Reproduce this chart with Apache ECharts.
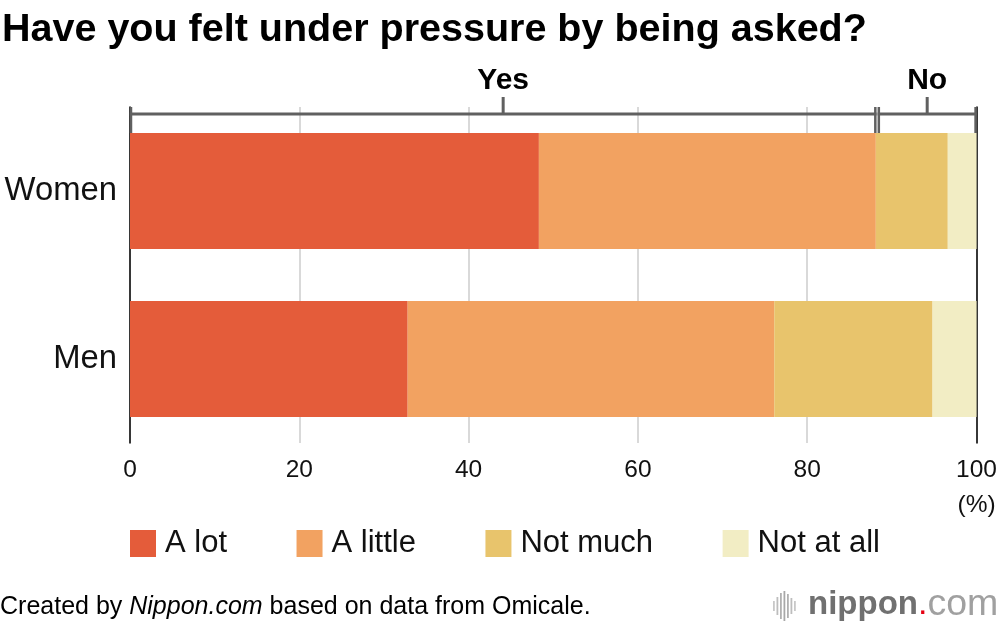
<!DOCTYPE html>
<html>
<head>
<meta charset="utf-8">
<script src="https://cdn.jsdelivr.net/npm/echarts@6/dist/echarts.min.js"></script>
<style>
html,body{margin:0;padding:0;background:#fff;}
#main{width:1000px;height:630px;}
</style>
</head>
<body>
<div id="main"></div>
<script>
var categories = ['Women', 'Men'];
var seriesNames = ['A lot', 'A little', 'Not much', 'Not at all'];
var aLot = [48.3, 32.8];
var aLittle = [39.8, 43.3];
var notMuch = [8.5, 18.7];
var notAtAll = [3.4, 5.2];
var xTicks = [0, 20, 40, 60, 80, 100];
var colors = ['#E45C3A', '#F2A261', '#E8C46C', '#F2EDC4'];
var FONT = '"Liberation Sans", Arial, Helvetica, sans-serif';

var chart = echarts.init(document.getElementById('main'));
var values = [aLot, aLittle, notMuch, notAtAll];

var option = {
  backgroundColor: '#fff',
  animation: false,
  textStyle: {fontFamily: FONT},
  title: {
    text: 'Have you felt under pressure by being asked?',
    left: -3, top: 5,
    textStyle: {fontSize: 39.5, fontWeight: 'bold', color: '#000', fontFamily: FONT}
  },
  legend: {
    data: seriesNames,
    left: 125, top: 523,
    itemWidth: 26, itemHeight: 27, itemGap: 69.5,
    icon: 'rect',
    textStyle: {fontSize: 31, color: '#111', fontFamily: FONT, padding: [0, 0, 0, 4]}
  },
  grid: {left: 130, right: 22, top: 107, bottom: 187, containLabel: false},
  xAxis: {
    type: 'value', min: 0, max: 100, interval: 20,
    axisLine: {show: false}, axisTick: {show: false},
    splitLine: {show: true, lineStyle: {color: '#cccccc', width: 1.5}},
    axisLabel: {fontSize: 24.5, color: '#111', margin: 15, fontFamily: FONT,
      formatter: function (v) { return xTicks.indexOf(v) >= 0 ? String(v) : ''; }}
  },
  yAxis: [{
    type: 'category', data: categories, inverse: true,
    axisLine: {show: true, lineStyle: {color: '#000', width: 1.5}},
    axisTick: {show: false},
    axisLabel: {fontSize: 32.8, color: '#111', margin: 13, fontFamily: FONT}
  }, {
    type: 'category', data: categories, inverse: true, position: 'right',
    axisLine: {show: true, onZero: false, lineStyle: {color: '#000', width: 1.5}},
    axisTick: {show: false}, axisLabel: {show: false}
  }],
  series: seriesNames.map(function (n, i) {
    return {
      name: n, type: 'bar', stack: 'total', barWidth: 116,
      itemStyle: {color: colors[i]},
      data: values[i]
    };
  })
};
chart.setOption(option);

// Bracket for Yes / No computed through the axis scale
var yesTotal = aLot[0] + aLittle[0];
var px = function (v) { return chart.convertToPixel({xAxisIndex: 0}, v); };
var x0 = px(0), xs = px(yesTotal), x1 = px(100);
var lineY = 114, topY = 107, botY = 133, upY = 97;
var bc = '#606060';
var g = [];
function seg(a, b, c, d, w) {
  g.push({type: 'line', z: 100, shape: {x1: a, y1: b, x2: c, y2: d},
    style: {stroke: bc, lineWidth: w || 3}});
}
var groups = [
  {label: 'Yes', from: x0 + 1, to: xs - 0.5},
  {label: 'No', from: xs + 3, to: x1 - 1}
];
groups.forEach(function (gr) {
  seg(gr.from - 1.2, lineY, gr.to + 1.2, lineY);
  seg(gr.from, topY, gr.from, botY, 2.5);
  seg(gr.to, topY, gr.to, botY, 2.5);
  var c = (gr.from + gr.to) / 2;
  seg(c, upY, c, lineY);
  g.push({type: 'text', z: 100, x: c, y: 81,
    style: {text: gr.label, font: 'bold 30px ' + FONT, fill: '#000',
      textAlign: 'center', textVerticalAlign: 'middle'}});
});
g.push({type: 'text', x: x1, y: 505,
  style: {text: '(%)', font: '24.5px ' + FONT, fill: '#111', textAlign: 'center', textVerticalAlign: 'middle'}});
g.push({type: 'text', x: 0, y: 607,
  style: {text: '{a|Created by }{b|Nippon.com}{a| based on data from Omicale.}',
    textVerticalAlign: 'middle',
    rich: {
      a: {fontSize: 25, fontFamily: FONT, fill: '#000'},
      b: {fontSize: 25, fontFamily: FONT, fontStyle: 'italic', fill: '#000'}
    }}});
// logo bars
var barHs = [10, 18, 26, 30, 24, 16, 10];
var barCs = ['#c8c8c8', '#bdbdbd', '#b0b0b0', '#a8a8a8', '#b0b0b0', '#bdbdbd', '#c8c8c8'];
barHs.forEach(function (h, i) {
  g.push({type: 'rect', shape: {x: 773 + i * 3.5, y: 606 - h / 2, width: 1.8, height: h},
    style: {fill: barCs[i]}});
});
g.push({type: 'text', x: 808, y: 605,
  style: {text: '{n|nippon}{d|.}{c|com}', textVerticalAlign: 'middle',
    rich: {
      n: {fontSize: 33, fontWeight: 'bold', fontFamily: FONT, fill: '#707070'},
      d: {fontSize: 34, fontFamily: FONT, fill: '#e60012'},
      c: {fontSize: 37.5, fontFamily: FONT, fill: '#a0a0a0'}
    }}});
chart.setOption({graphic: g});
</script>
</body>
</html>
